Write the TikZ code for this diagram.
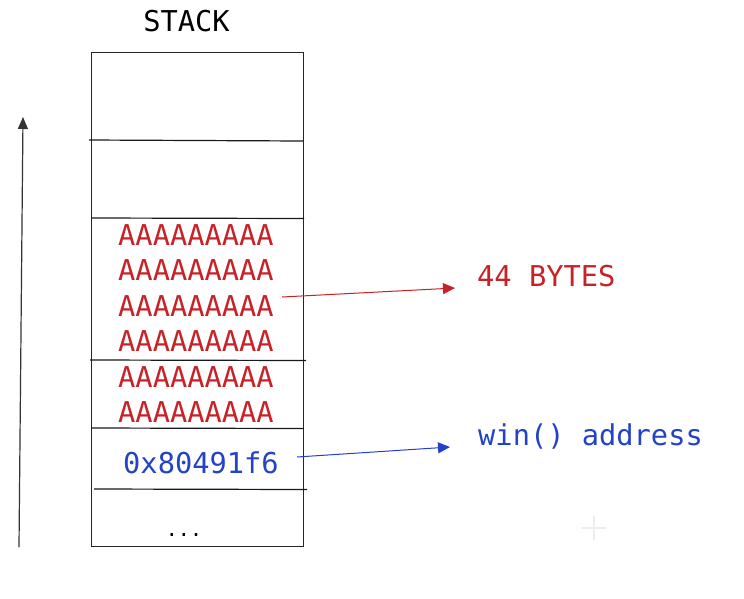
\documentclass[tikz,border=0pt]{standalone}
\usepackage{fontspec}
\newfontfamily\monofam{DejaVu Sans Mono}
\usetikzlibrary{arrows.meta}
\definecolor{ared}{RGB}{200,34,40}
\definecolor{ablue}{RGB}{36,66,200}
\begin{document}
\begin{tikzpicture}[x=1pt,y=-1pt,
  frame/.style={draw=black!85,line width=1.2pt},
  sep/.style={draw=black!90,line width=1.2pt},
  txt/.style={inner sep=0pt,font=\monofam\fontsize{28.7}{28.7}\selectfont},
  redtxt/.style={txt,text=ared,anchor=base west},
  bluetxt/.style={txt,text=ablue,anchor=base west},
  redarrow/.style={draw=ared,line width=1pt,-{Triangle[length=12pt,width=11pt]}},
  bluearrow/.style={draw=ablue,line width=1pt,-{Triangle[length=12pt,width=11pt]}},
  uparrow/.style={draw=black!80,line width=1.2pt,-{Triangle[length=12pt,width=10pt]}}]
\useasboundingbox (0,0) rectangle (744,598);
\fill[white] (0,0) rectangle (744,598);
% title
\node[txt,anchor=base] (title) at (186.5,31.5) {STACK};
% stack frame
\node[frame,inner sep=0pt,minimum width=212pt,minimum height=494pt,anchor=north west] (stack) at (91,52) {};
\draw[sep] (89,140) -- (303,141);
\draw[sep] (91,218) -- (304,218.5);
\draw[sep] (90,360) -- (306,360.5);
\draw[sep] (91,428) -- (303,428.5);
\draw[sep] (94,489) -- (307,489.5);
% filler rows
\node[redtxt] (a1) at (118,245) {AAAAAAAAA};
\node[redtxt] (a2) at (118,280.5) {AAAAAAAAA};
\node[redtxt] (a3) at (118,316) {AAAAAAAAA};
\node[redtxt] (a4) at (118,351.5) {AAAAAAAAA};
\node[redtxt] (a5) at (118,387) {AAAAAAAAA};
\node[redtxt] (a6) at (118,422.5) {AAAAAAAAA};
\node[bluetxt] (addr) at (123,473) {0x80491f6};
\node[txt,anchor=base,font=\monofam\fontsize{20}{20}\selectfont] (dots) at (184,536) {...};
% labels
\node[redtxt] (bytes) at (477,286) {44 BYTES};
\node[bluetxt] (win) at (478,445) {win() address};
% connectors
\coordinate (rs) at (282,297);
\coordinate (re) at (455,288);
\coordinate (bs) at (297,457);
\coordinate (be) at (450,447);
\draw[redarrow] (rs) -- (re);
\draw[bluearrow] (bs) -- (be);
\coordinate (us) at (19,547);
\coordinate (ue) at (23,117);
\draw[uparrow] (us) -- (ue);
% faint plus mark
\draw[black!7,line width=1.5pt] (582,528) -- (606,528) (594,516) -- (594,540);
\end{tikzpicture}
\end{document}
